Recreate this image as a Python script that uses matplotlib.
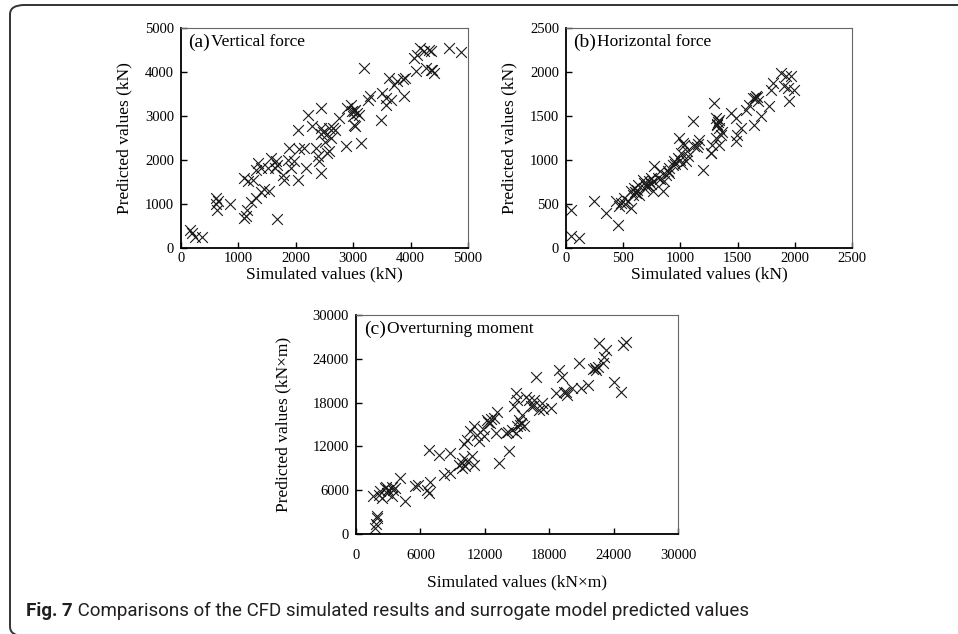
import matplotlib
matplotlib.use("Agg")
import matplotlib.pyplot as plt
from matplotlib.patches import FancyBboxPatch

plt.rcParams['font.family'] = ['Liberation Serif', 'DejaVu Serif']

# (a) vertical force, kN
sim_a = [150, 240, 370, 190, 610, 640, 610, 630, 850, 1100,
         1160, 1100, 1130, 1150, 1220, 1300, 1390, 1450, 1540, 1680,
         1250, 1340, 1310, 1390, 1570, 1510, 1650, 1630, 1680, 1770,
         1800, 1860, 1890, 1920, 1970, 2030, 2030, 2060, 2150, 2180,
         2210, 2290, 2350, 2380, 2440, 2440, 2440, 2410, 2440, 2750,
         2580, 2640, 2550, 2690, 2610, 2550, 2580, 2870, 3130, 2900,
         2960, 2980, 3040, 3070, 3010, 3040, 3100, 3190, 3250, 3300,
         3480, 3510, 3570, 3570, 3650, 3620, 3710, 3770, 3860, 3910,
         3880, 4090, 4060, 4120, 4170, 4230, 4320, 4350, 4260, 4350,
         4410, 4380, 4670, 4870, 2480, 2500, 2990, 3020]
pred_a = [400, 260, 240, 330, 1140, 1060, 990, 870, 990, 1580,
          1530, 680, 720, 870, 1050, 1140, 1270, 1330, 1290, 670,
          1550, 1930, 1780, 1820, 2050, 1820, 1970, 1820, 1890, 1670,
          1550, 2010, 2270, 1820, 1970, 1550, 2690, 2240, 2270, 1820,
          3030, 2770, 2270, 2080, 3180, 2730, 1700, 1970, 2580, 2960,
          2730, 2730, 2580, 2690, 2500, 2160, 2200, 2310, 2390, 3180,
          3260, 3110, 3140, 3070, 2800, 2770, 3030, 4090, 3370, 3450,
          2920, 3520, 3410, 3260, 3370, 3860, 3710, 3790, 3830, 3860,
          3450, 4020, 4320, 4390, 4550, 4470, 4510, 4470, 4090, 4050,
          3980, 4050, 4550, 4460, 2640, 2400, 3000, 3120]

# (b) horizontal force, kN
sim_b = [44, 44, 117, 248, 350, 437, 452, 481, 510, 539,
         568, 583, 597, 627, 612, 568, 670, 685, 714, 729,
         743, 772, 758, 845, 874, 860, 889, 903, 933, 947,
         976, 991, 1005, 1020, 1034, 1049, 1064, 1122, 1107, 1195,
         1149, 1164, 1267, 1293, 1308, 1322, 1337, 1352, 1308, 1279,
         1337, 1264, 1439, 1483, 1527, 1498, 1483, 1573, 1602, 1631,
         1660, 1675, 1646, 1704, 1777, 1791, 1806, 1879, 1923, 1966,
         1908, 1937, 1995, 1952, 600, 620, 700, 740, 760, 800,
         820, 900, 950, 1000, 1010, 1060, 1330, 1340, 1320, 1650,
         1670, 1360, 1150, 460, 520, 640, 680, 820]
pred_b = [436, 133, 114, 538, 398, 530, 265, 511, 568, 530,
          644, 606, 682, 720, 625, 455, 776, 682, 720, 758,
          795, 928, 644, 644, 833, 758, 871, 909, 947, 985,
          1023, 1250, 1080, 1193, 1174, 985, 1042, 1155, 1439, 890,
          1151, 1227, 1075, 1648, 1477, 1402, 1364, 1288, 1250, 1174,
          1174, 1080, 1534, 1477, 1364, 1288, 1212, 1572, 1629, 1705,
          1724, 1667, 1402, 1496, 1610, 1799, 1875, 1989, 1951, 1951,
          1837, 1818, 1799, 1667, 640, 660, 700, 730, 760, 800,
          780, 850, 950, 1000, 960, 1100, 1430, 1450, 1410, 1700,
          1720, 1320, 1180, 480, 500, 600, 740, 880]

# (c) overturning moment, kN x m
sim_c = [1780, 1870, 1930, 2000, 1620, 2240, 2400, 2710, 2870, 3020,
         3340, 3490, 3650, 4110, 4580, 5520, 6610, 6760, 6920, 6760,
         7700, 8790, 8170, 8790, 9570, 9880, 10040, 10190, 10350, 10100,
         10350, 10660, 10970, 10820, 10970, 11280, 11440, 11910, 12220, 12530,
         12840, 13150, 13000, 13310, 13930, 14250, 14560, 14710, 14870, 15020,
         14870, 15020, 15180, 15340, 15490, 15650, 15800, 16120, 16270, 16580,
         16740, 17050, 17360, 18140, 18610, 18920, 19230, 19390, 19700, 20170,
         20790, 20950, 21570, 22350, 22510, 22660, 22970, 23130, 23280, 24060,
         24690, 24840, 25150, 2800, 3400, 5800, 14130, 12580, 11800, 22100,
         22300, 19600, 16500, 17400, 12300, 2100, 9900, 15300]
pred_c = [820, 1410, 2190, 2420, 5150, 5840, 4930, 6290, 5610, 6070,
          5150, 6070, 6290, 7660, 4470, 6520, 6070, 5610, 7070, 11540,
          10850, 11080, 8120, 8350, 9490, 9710, 10400, 9260, 9940, 12360,
          12900, 14050, 14730, 10630, 9490, 13590, 12680, 13360, 15640, 15190,
          15870, 16780, 13820, 9710, 13820, 11310, 14270, 17470, 19290, 18380,
          13820, 14730, 15640, 15190, 16330, 14730, 18830, 18380, 17470, 18380,
          21570, 17010, 17920, 17240, 19290, 22480, 21570, 19520, 19060, 19970,
          23390, 19970, 20430, 22480, 22940, 26220, 23390, 24310, 25220, 20890,
          19520, 25900, 26360, 6500, 6400, 6700, 14000, 15820, 14450, 22600,
          22700, 19400, 17600, 17100, 15400, 5300, 9100, 14900]

panels = [
    dict(x=sim_a, y=pred_a, lim=5000, step=1000, tag="(a)", name="Vertical force",
         xlabel="Simulated values (kN)", ylabel="Predicted values (kN)",
         rect=[181 / 958, 1 - 248 / 634, 287 / 958, 220 / 634],
         xpad=3, lpad=1, ylpad=9),
    dict(x=sim_b, y=pred_b, lim=2500, step=500, tag="(b)", name="Horizontal force",
         xlabel="Simulated values (kN)", ylabel="Predicted values (kN)",
         rect=[566 / 958, 1 - 248 / 634, 286 / 958, 220 / 634],
         xpad=3, lpad=1, ylpad=9),
    dict(x=sim_c, y=pred_c, lim=30000, step=6000, tag="(c)", name="Overturning moment",
         xlabel="Simulated values (kN\u00d7m)", ylabel="Predicted values (kN\u00d7m)",
         rect=[356 / 958, 1 - 534 / 634, 322 / 958, 219 / 634],
         xpad=11, lpad=9, ylpad=15),
]

fig = plt.figure(figsize=(9.58, 6.34), dpi=100)

# rounded frame around the figure
frame = FancyBboxPatch((10 / 958, -2 / 634), 970 / 958, 631 / 634,
                       boxstyle="round,pad=0,rounding_size=0.015",
                       transform=fig.transFigure, facecolor="none",
                       edgecolor="#333333", linewidth=1.4, clip_on=False)
fig.patches.append(frame)

for p in panels:
    ax = fig.add_axes(p["rect"])
    ax.scatter(p["x"], p["y"], marker="x", s=60, color="#1a1a1a", linewidths=0.8)
    ax.set_xlim(0, p["lim"])
    ax.set_ylim(0, p["lim"])
    ticks = list(range(0, p["lim"] + 1, p["step"]))
    ax.set_xticks(ticks)
    ax.set_yticks(ticks)
    ax.tick_params(direction="in", length=4, width=1, labelsize=10.5,
                   top=False, right=False)
    ax.tick_params(axis="x", pad=p["xpad"])
    ax.tick_params(axis="y", pad=5)
    for side in ["left", "bottom"]:
        ax.spines[side].set_linewidth(1.3)
        ax.spines[side].set_color("black")
    for side in ["top", "right"]:
        ax.spines[side].set_linewidth(0.8)
        ax.spines[side].set_color("#666666")
    ax.set_xlabel(p["xlabel"], fontsize=12.5, labelpad=p["lpad"])
    ax.set_ylabel(p["ylabel"], fontsize=12.5, labelpad=p["ylpad"])
    t = ax.text(0.025, 0.935, p["tag"], transform=ax.transAxes, fontsize=14,
                va="center", ha="left")
    ax.annotate(p["name"], xy=(1, 0.5), xycoords=t, xytext=(1, 0),
                textcoords="offset points", fontsize=12.5, va="center", ha="left")

cap = fig.text(26 / 958, 1 - 611 / 634, "Fig. 7", fontsize=13.5, fontweight="bold",
               family=["Roboto", "DejaVu Sans"], color="#231f20", va="center")
fig.add_artist(plt.Annotation(
    " Comparisons of the CFD simulated results and surrogate model predicted values",
    xy=(1, 0.5), xycoords=cap, va="center", ha="left", fontsize=13.5,
    family=["Roboto", "DejaVu Sans"], color="#231f20"))

fig.savefig("out.png", dpi=100)
